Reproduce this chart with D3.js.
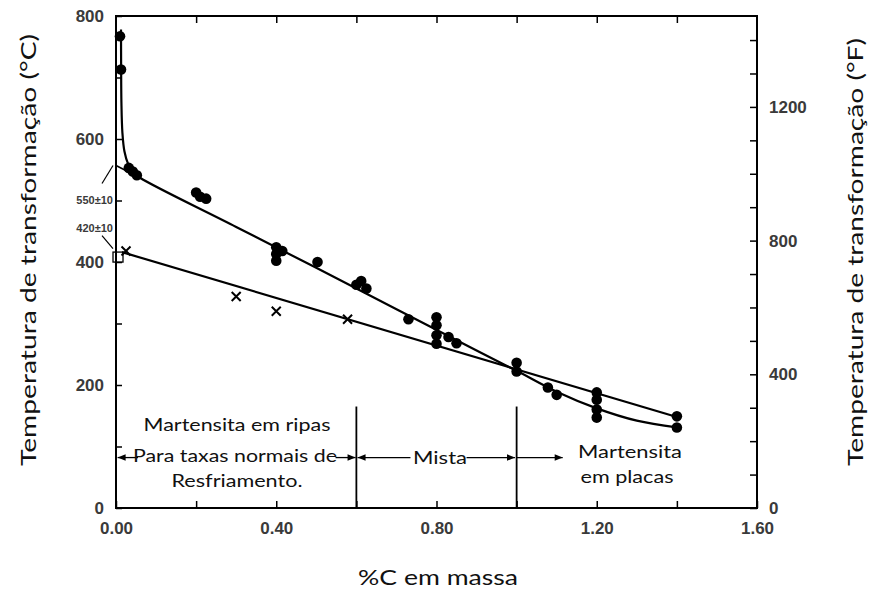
<!DOCTYPE html>
<html><head><meta charset="utf-8">
<script src="https://cdn.jsdelivr.net/npm/d3@7"></script>
<style>body{margin:0;background:#fff}svg{display:block}</style>
</head><body>
<svg id="c" width="871" height="590"></svg>
<script>
// ---- data (wt% C, °C) ----
const dotPoints = [[0.010,767],[0.0125,713],[0.032,553],[0.042,547],[0.052,541],
  [0.200,513],[0.210,506],[0.225,503],[0.400,424],[0.400,413],[0.400,402],[0.415,418],
  [0.503,400],[0.600,363],[0.612,369],[0.625,357],[0.730,307],
  [0.800,310],[0.800,297],[0.800,281],[0.800,267],[0.830,278],[0.850,268],
  [1.000,236],[1.000,222],[1.078,196],[1.100,184],
  [1.200,188],[1.200,176],[1.200,160],[1.200,147],[1.400,149],[1.400,131]];
const crossPoints = [[0.025,418],[0.300,344],[0.400,320],[0.578,307]];
const squarePoints = [[0.005,408]];
const upperCurve = [[0.0125,778],[0.0128,720],[0.0135,660],[0.016,610],[0.021,580],[0.03,560],[0.045,545],[0.06,537],
  [0.3,457],[0.6,357],[0.9,256],[1.0,223],[1.1,189],[1.2,162],[1.3,142],[1.4,131]];
const upperExtension = [[0.0,557],[0.06,537]];
const lowerLine = [[0.015,416],[1.4,148]];
const xTicks = [0,0.2,0.4,0.6,0.8,1.0,1.2,1.4,1.6];
const xLabels = [0,0.4,0.8,1.2,1.6];
const yTicksC = [0,100,200,300,400,500,600,700,800];
const yLabelsC = [0,200,400,600,800];
const yTicksF = [0,100,200,300,400,500,600,700,800,900,1000,1100,1200,1300,1400];
const yLabelsF = [0,400,800,1200];
const boundaries = [0.6,1.0];
const regionY = 82;

const svg = d3.select("#c");
const x = d3.scaleLinear([0,1.6],[116,757]);
const y = d3.scaleLinear([0,800],[508,16]);
const yF = d3.scaleLinear([0,1472],[508,16]);
const tickFont = "'Liberation Sans', Arial, sans-serif";
const textFont = "Lato, 'Open Sans', sans-serif";

// frame
svg.append("rect").attr("x",x(0)).attr("y",y(800)).attr("width",x(1.6)-x(0)).attr("height",y(0)-y(800))
  .attr("fill","none").attr("stroke","#000").attr("stroke-width",2);

function styleAxis(g){
  g.select(".domain").remove();
  g.selectAll(".tick line").attr("stroke","#000").attr("stroke-width",1.5);
  g.selectAll(".tick text").attr("font-family",tickFont).attr("font-size",17).attr("font-weight","bold").attr("fill","#3a3a3a");
}
svg.append("g").attr("transform",`translate(0,${y(0)})`)
  .call(d3.axisBottom(x).tickValues(xTicks).tickSize(-7).tickPadding(14)
    .tickFormat(d=> xLabels.some(v=>Math.abs(v-d)<1e-9) ? d3.format(".2f")(d) : ""))
  .call(styleAxis);
svg.append("g").attr("transform",`translate(0,${y(800)})`)
  .call(d3.axisTop(x).tickValues(xTicks.slice(1,-1)).tickSize(-7).tickFormat(""))
  .call(styleAxis);
svg.append("g").attr("transform",`translate(${x(0)},0)`)
  .call(d3.axisLeft(y).tickValues(yTicksC).tickSize(-6).tickPadding(12)
    .tickFormat(d=> yLabelsC.includes(d) ? d : ""))
  .call(styleAxis);
svg.append("g").attr("transform",`translate(${x(1.6)},0)`)
  .call(d3.axisRight(yF).tickValues(yTicksF).tickSize(-7).tickPadding(12)
    .tickFormat(d=> yLabelsF.includes(d) ? d : ""))
  .call(styleAxis);

// intercept annotations
const ann = svg.append("g").attr("font-family",tickFont).attr("font-size",11).attr("font-weight","bold").attr("fill","#3a3a3a").attr("text-anchor","end");
ann.append("text").attr("x",x(0)-3).attr("y",y(557)+39).text("550±10");
ann.append("text").attr("x",x(0)-3).attr("y",y(420)-18).text("420±10");
svg.append("line").attr("x1",x(0)-14).attr("y1",y(557)+18).attr("x2",x(0)-3).attr("y2",y(557)).attr("stroke","#000").attr("stroke-width",1.2);
svg.append("line").attr("x1",x(0)-14).attr("y1",y(420)-14).attr("x2",x(0)-3).attr("y2",y(420)-1).attr("stroke","#000").attr("stroke-width",1.2);

// region boundaries
svg.selectAll("line.bd").data(boundaries).join("line").attr("class","bd")
  .attr("x1",d=>x(d)).attr("x2",d=>x(d)).attr("y1",y(165)).attr("y2",y(0))
  .attr("stroke","#000").attr("stroke-width",1.8);

// arrow markers
const defs = svg.append("defs");
defs.append("marker").attr("id","ah").attr("viewBox","0 -5 10 10").attr("refX",10).attr("refY",0)
  .attr("markerWidth",10).attr("markerHeight",8).attr("markerUnits","userSpaceOnUse").attr("orient","auto")
  .append("path").attr("d","M0,-4L10,0L0,4Z").attr("fill","#000");
const arrows = [[0.055,0.004],[0.548,0.598],[0.735,0.603],[0.875,0.996],[1.0,1.115]];
svg.selectAll("line.ar").data(arrows).join("line").attr("class","ar")
  .attr("x1",d=>x(d[0])).attr("x2",d=>x(d[1])).attr("y1",y(regionY)).attr("y2",y(regionY))
  .attr("stroke","#000").attr("stroke-width",1.3).attr("marker-end","url(#ah)");

// region texts
const rt = svg.append("g").attr("font-family",textFont).attr("font-size",18).attr("fill","#111").attr("text-anchor","middle");
const regionTexts = [["Martensita em ripas",237,431,187],["Para taxas normais de",235,462,204],["Resfriamento.",237,487,131],
  ["Mista",440,464,54],["Martensita",630,458,104],["em placas",627,483,93]];
regionTexts.forEach(t=>{
  rt.append("text").attr("x",t[1]).attr("y",t[2]).attr("textLength",t[3]).attr("lengthAdjust","spacingAndGlyphs").text(t[0]);
});

// curves
const line = d3.line().x(d=>x(d[0])).y(d=>y(d[1]));
svg.append("path").attr("d",line.curve(d3.curveCatmullRom.alpha(0.5))(upperCurve)).attr("fill","none").attr("stroke","#000").attr("stroke-width",2.2);
svg.append("path").attr("d",d3.line().x(d=>x(d[0])).y(d=>y(d[1]))(upperExtension)).attr("fill","none").attr("stroke","#000").attr("stroke-width",1.6);
svg.append("path").attr("d",d3.line().x(d=>x(d[0])).y(d=>y(d[1]))(lowerLine)).attr("fill","none").attr("stroke","#000").attr("stroke-width",2.2);

// markers
svg.selectAll("circle.dot").data(dotPoints).join("circle").attr("class","dot")
  .attr("cx",d=>x(d[0])).attr("cy",d=>y(d[1])).attr("r",5.3).attr("fill","#000");
const xs = 4.5;
crossPoints.forEach(d=>{
  const cx=x(d[0]), cy=y(d[1]);
  svg.append("path").attr("d",`M${cx-xs},${cy-xs}L${cx+xs},${cy+xs}M${cx-xs},${cy+xs}L${cx+xs},${cy-xs}`)
    .attr("stroke","#000").attr("stroke-width",2);
});
svg.selectAll("rect.sq").data(squarePoints).join("rect").attr("class","sq")
  .attr("x",d=>x(d[0])-5).attr("y",d=>y(d[1])-5).attr("width",10).attr("height",10)
  .attr("fill","none").attr("stroke","#000").attr("stroke-width",1.3);

// axis titles
const tt = svg.append("g").attr("font-family",textFont).attr("font-size",22).attr("fill","#111").attr("text-anchor","middle");
tt.append("text").attr("transform","translate(36,250) rotate(-90)").attr("textLength",432).attr("lengthAdjust","spacingAndGlyphs").text("Temperatura de transformação (°C)");
tt.append("text").attr("transform","translate(863,252) rotate(-90)").attr("textLength",428).attr("lengthAdjust","spacingAndGlyphs").text("Temperatura de transformação (°F)");
tt.append("text").attr("x",438).attr("y",585).attr("textLength",160).attr("lengthAdjust","spacingAndGlyphs").text("%C em massa");
</script>
</body></html>
